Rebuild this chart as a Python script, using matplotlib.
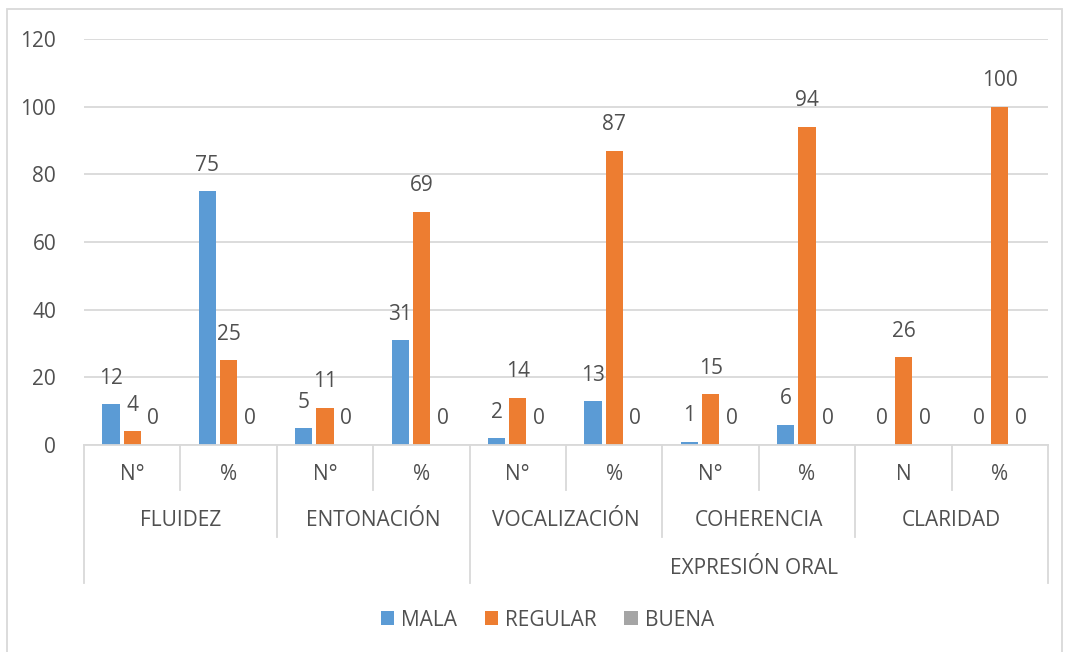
import matplotlib.pyplot as plt
import numpy as np
from matplotlib.patches import Rectangle

plt.rcParams['font.family'] = ['Open Sans', 'DejaVu Sans']

sub_labels = ['N°', '%', 'N°', '%', 'N°', '%', 'N°', '%', 'N', '%']
groups = ['FLUIDEZ', 'ENTONACIÓN', 'VOCALIZACIÓN', 'COHERENCIA', 'CLARIDAD']
top_group = 'EXPRESIÓN ORAL'
mala = [12, 75, 5, 31, 2, 13, 1, 6, 0, 0]
regular = [4, 25, 11, 69, 14, 87, 15, 94, 26, 100]
buena = [0, 0, 0, 0, 0, 0, 0, 0, 0, 0]

series = [('MALA', mala, '#5B9BD5'), ('REGULAR', regular, '#ED7D31'), ('BUENA', buena, '#A5A5A5')]
txt = '#505050'
grid = '#D9D9D9'
fs = 15

fig = plt.figure(figsize=(10.65, 6.52), dpi=100)
ax = fig.add_axes([84 / 1065, 207 / 652, 964 / 1065, 406 / 652])

x = np.arange(len(sub_labels))
w = 0.18
step = 0.22
for i, (name, vals, col) in enumerate(series):
    pos = x + (i - 1) * step
    ax.bar(pos, vals, w, color=col, label=name, zorder=2)
    for xp, v in zip(pos, vals):
        ax.annotate(str(v), (xp, v), xytext=(0, 26), textcoords='offset pixels',
                    ha='center', va='center', fontsize=fs, color=txt)

ax.set_xlim(-0.5, len(sub_labels) - 0.5)
ax.set_ylim(0, 120)
ax.set_yticks(range(0, 121, 20))
ax.tick_params(axis='y', length=0, labelsize=fs, labelcolor=txt, pad=20)
ax.set_xticks([])
ax.grid(axis='y', color=grid, linewidth=1.3, zorder=0)
for s in ['top', 'right', 'left']:
    ax.spines[s].set_visible(False)
ax.spines['bottom'].set_color(grid)
ax.spines['bottom'].set_linewidth(1.3)

# multi-level category axis
tr = ax.get_xaxis_transform()
r1, r2, r3 = -45 / 406, -92 / 406, -138 / 406
for i, lab in enumerate(sub_labels):
    ax.text(i, -29 / 406, lab, transform=tr, ha='center', va='center', fontsize=fs, color=txt)
for g, lab in enumerate(groups):
    ax.text(2 * g + 0.5, -76 / 406, lab, transform=tr, ha='center', va='center', fontsize=fs, color=txt)
ax.text(6.45, -123 / 406, top_group, transform=tr, ha='center', va='center', fontsize=fs, color=txt)

for b in np.arange(len(sub_labels) + 1) - 0.5:
    if b in (-0.5, 3.5, 9.5):
        y_end = r3
    elif (b + 0.5) % 2 == 0:
        y_end = r2
    else:
        y_end = r1
    ax.plot([b, b], [0, y_end], transform=tr, color=grid, linewidth=1.3, clip_on=False)

leg = fig.legend(loc='center', bbox_to_anchor=(0.514, 0.049), ncol=3, frameon=False,
                 fontsize=fs, handlelength=0.65, handleheight=0.65, handletextpad=0.35,
                 columnspacing=1.3)
for t in leg.get_texts():
    t.set_color(txt)

fig.patches.append(Rectangle((7 / 1065, -0.01), 1055 / 1065, 1 - 9 / 652 + 0.01,
                             transform=fig.transFigure, fill=False, edgecolor=grid, linewidth=1.3))

fig.savefig('out.png', dpi=100)
